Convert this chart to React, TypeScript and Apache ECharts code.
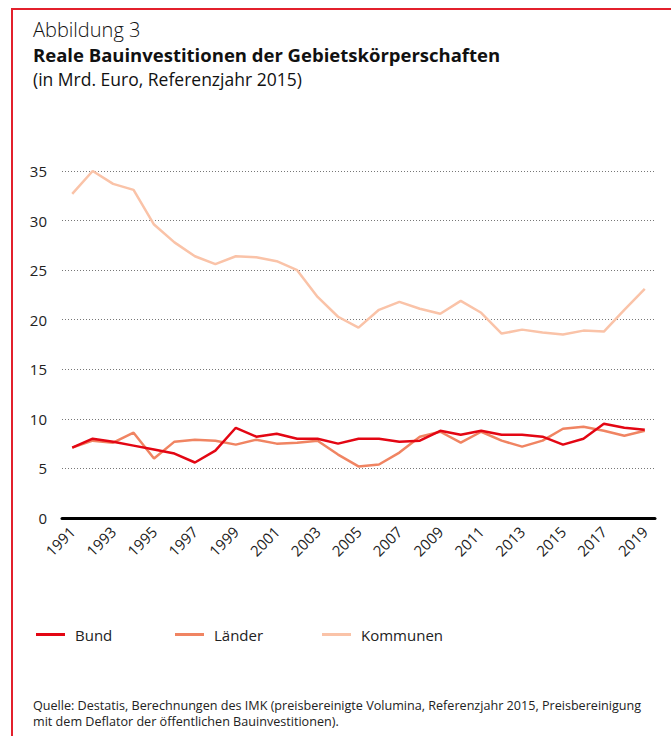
import React, { useEffect, useRef } from "react";
import * as echarts from "echarts";

const years = [
  "1991","1992","1993","1994","1995","1996","1997","1998","1999","2000",
  "2001","2002","2003","2004","2005","2006","2007","2008","2009","2010",
  "2011","2012","2013","2014","2015","2016","2017","2018","2019",
];
const bund = [7.1, 8.0, 7.7, 7.3, 6.9, 6.5, 5.6, 6.8, 9.1, 8.2, 8.5, 8.0, 8.0, 7.5, 8.0, 8.0, 7.7, 7.8, 8.8, 8.4, 8.8, 8.4, 8.4, 8.2, 7.4, 8.0, 9.5, 9.1, 8.9];
const laender = [7.1, 7.8, 7.6, 8.6, 6.0, 7.7, 7.9, 7.8, 7.4, 7.9, 7.5, 7.6, 7.8, 6.4, 5.2, 5.4, 6.6, 8.2, 8.7, 7.6, 8.7, 7.8, 7.2, 7.8, 9.0, 9.2, 8.8, 8.3, 8.8];
const kommunen = [32.7, 35.0, 33.7, 33.1, 29.6, 27.8, 26.4, 25.6, 26.4, 26.3, 25.9, 25.0, 22.3, 20.3, 19.2, 21.0, 21.8, 21.1, 20.6, 21.9, 20.7, 18.6, 19.0, 18.7, 18.5, 18.9, 18.8, 21.0, 23.1];
const seriesNames = ["Bund", "Länder", "Kommunen"];
const colors = ["#e30613", "#f08462", "#fac3a8"];

const FONT = "'Open Sans', 'Noto Sans', sans-serif";

export default function App() {
  const ref = useRef<HTMLDivElement>(null);
  useEffect(() => {
    document.body.style.margin = "0";
    if (!ref.current) return;
    const chart = echarts.init(ref.current, null, { renderer: "svg" });
    const legendLefts = [31, 170, 317];
    chart.setOption({
      animation: false,
      backgroundColor: "#ffffff",
      textStyle: { fontFamily: FONT },
      grid: { left: 62, right: 16, top: 171, bottom: 218, containLabel: false },
      xAxis: {
        type: "category",
        data: years,
        boundaryGap: true,
        axisLine: { show: true, lineStyle: { color: "#000", width: 3 } },
        axisTick: { show: false },
        axisLabel: {
          interval: 1,
          rotate: 45,
          fontSize: 15,
          color: "#222",
          fontFamily: FONT,
          margin: 11,
        },
      },
      yAxis: {
        type: "value",
        min: 0,
        max: 35,
        interval: 5,
        axisLine: { show: false },
        axisTick: { show: false },
        axisLabel: { fontSize: 15, color: "#222", margin: 15, fontFamily: FONT },
        splitLine: { lineStyle: { color: "#777", width: 1, type: [1, 2] } },
      },
      legend: seriesNames.map((n, i) => ({
        data: [n],
        left: legendLefts[i],
        top: 622,
        icon: "rect",
        itemWidth: 29,
        itemHeight: 3,
        textStyle: { fontSize: 15, color: "#222", fontFamily: FONT, padding: [0, 0, 0, 5] },
        selectedMode: false,
      })),
      series: [
        { name: seriesNames[0], data: bund },
        { name: seriesNames[1], data: laender },
        { name: seriesNames[2], data: kommunen },
      ].map((s, i) => ({
        ...s,
        type: "line",
        symbol: "none",
        z: 3 - i,
        color: colors[i],
        lineStyle: { color: colors[i], width: 2.5 },
      })),
      graphic: [
        { type: "rect", shape: { x: 11, y: 8, width: 660, height: 2 }, style: { fill: "#e3202c" } },
        { type: "rect", shape: { x: 11, y: 8, width: 2, height: 728 }, style: { fill: "#e3202c" } },
        { type: "text", left: 33, top: 17, style: { text: "Abbildung 3", fontSize: 20, lineHeight: 24, fontWeight: 300, fill: "#111", fontFamily: FONT } },
        { type: "text", left: 33, top: 44, style: { text: "Reale Bauinvestitionen der Gebietskörperschaften", fontSize: 18.5, lineHeight: 20, fontWeight: "bold", fill: "#111", fontFamily: FONT } },
        { type: "text", left: 33, top: 69, style: { text: "(in Mrd. Euro, Referenzjahr 2015)", fontSize: 17.5, lineHeight: 20, fill: "#111", fontFamily: FONT } },
        { type: "text", left: 33, top: 697, style: { text: "Quelle: Destatis, Berechnungen des IMK (preisbereinigte Volumina, Referenzjahr 2015, Preisbereinigung\nmit dem Deflator der öffentlichen Bauinvestitionen).", fontSize: 12.6, lineHeight: 16, fill: "#222", fontFamily: FONT } },
      ],
    });
    return () => chart.dispose();
  }, []);
  return <div ref={ref} style={{ width: 671, height: 736 }} />;
}
